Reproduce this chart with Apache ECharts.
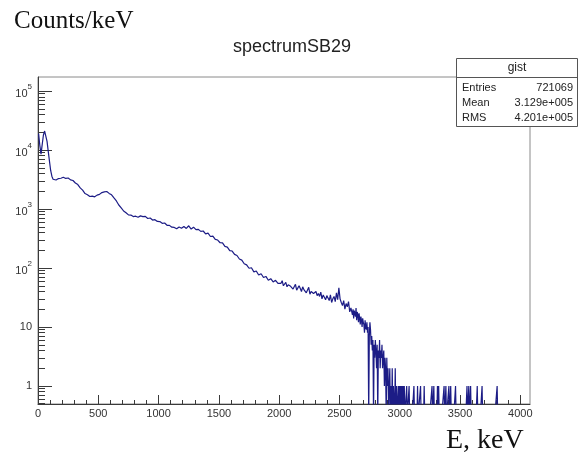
<!DOCTYPE html>
<html><head><meta charset="utf-8">
<script src="https://cdn.jsdelivr.net/npm/echarts@6/dist/echarts.min.js"></script>
<style>html,body{margin:0;padding:0;background:#fff}#c{width:579px;height:456px}</style>
</head><body><div id="c"></div>
<script>
// ---- data (counts per bin) ----
// bins from 0 keV, 10 keV wide
const lowStart = 0, lowWidth = 10;
const countsLow = [19000, 12000, 8500, 12500, 18000, 21000, 19500, 14000, 9500, 6500, 4500, 3600, 3200, 3050];
// bins from 140 keV, 20 keV wide
const midStart = 140, midWidth = 20;
const countsMid = [
  3100, 3280, 3320, 3450, 3300, 3360, 3120, 3040, 2760, 2600,   // 140-320
  2280, 2090, 1830, 1750, 1630, 1650, 1610, 1720, 1770, 1900,   // 340-520
  1950, 1980, 1840, 1740, 1540, 1370, 1170, 1050, 925, 865,     // 540-720
  795, 790, 745, 755, 725, 765, 745, 750, 690, 705,             // 740-920
  650, 660, 615, 612, 572, 580, 530, 528, 492, 488,             // 940-1120
  462, 495, 472, 505, 468, 520, 458, 492, 446, 452,             // 1140-1320
  418, 424, 378, 390, 342, 347, 305, 298, 268, 266,             // 1340-1520
  232, 226, 197, 194, 170, 163, 142, 136, 118, 113,             // 1540-1720
  99, 101, 86, 89, 76, 80, 69, 72, 62, 66,                      // 1740-1920
  58, 62, 55                                                    // 1940-1980
];
// bins from 2000 keV, 10 keV wide
const highStart = 2000, highWidth = 10;
const countsHigh = [
  58, 55, 61, 50, 53, 57, 48, 52, 56, 49,
  51, 44, 47, 53, 42, 46, 50, 45, 40, 48,
  43, 45, 38, 41, 47, 36, 40, 43, 37, 35,
  40, 34, 37, 33, 39, 30, 35, 37, 29, 34,
  31, 28, 35, 26, 30, 33, 27, 38, 29, 46,
  30, 26, 23, 28, 20, 25, 22, 27, 18, 21
];
// bins from 2600 keV, 5 keV wide
const edgeStart = 2600, edgeWidth = 5;
const countsEdge = [
  22, 16, 20, 14, 19, 17, 15, 21, 13, 18,
  16, 12, 17, 14, 11, 15, 13, 10, 14, 12,
  11, 8, 13, 10, 9, 12, 8, 10, 0, 7,
  12, 9, 5, 7, 4, 6, 0, 5, 3, 6,
  4, 2, 5, 0, 4, 3, 6, 2, 4, 3,
  5, 2, 3, 4, 1, 3, 2, 0, 3, 1
];
// sparse tail from 2900 keV (5 keV bins): non-empty bins only
const tailStart = 2900, tailWidth = 5;
const sparseE = [2900, 2910, 2915, 2925, 2935, 2945, 2950, 2960, 2970, 2975, 2985, 2995, 3005, 3015, 3025, 3035, 3055, 3075, 3115, 3145, 3170, 3200, 3265, 3280, 3310, 3320, 3365, 3380, 3405, 3420, 3460, 3555, 3570, 3585, 3640, 3680, 3805];
const sparseC = [2, 1, 2, 1, 2, 1, 1, 2, 1, 1, 1, 1, 1, 1, 1, 1, 1, 1, 1, 1, 1, 1, 1, 1, 1, 1, 1, 1, 1, 1, 1, 1, 1, 1, 1, 1, 1];

const xMax = 4080;
const yMin = 0.495, yMax = 1.73e5;
const xLabels = [0, 500, 1000, 1500, 2000, 2500, 3000, 3500, 4000];
const yLabels = [1, 10, 100, 1000, 10000, 100000];

const stats = { name: 'gist', entries: '721069', mean: '3.129e+005', rms: '4.201e+005' };

// ---- build histogram points at bin centres ----
const pts = [];
const addBins = (arr, start, w) => arr.forEach((c, i) => pts.push([start + i * w + w / 2, c]));
addBins(countsLow, lowStart, lowWidth);
addBins(countsMid, midStart, midWidth);
addBins(countsHigh, highStart, highWidth);
addBins(countsEdge, edgeStart, edgeWidth);
for (let e = tailStart; e < xMax; e += tailWidth) {
  const k = sparseE.indexOf(e);
  pts.push([e + tailWidth / 2, k >= 0 ? sparseC[k] : 0]);
}
const floor = 0.3; // empty bins drop below the frame
const data = pts.map(p => [p[0], p[1] > 0 ? p[1] : floor]);

const xMinor = []; for (let v = 100; v < xMax; v += 100) if (v % 500) xMinor.push(v);
const yMinor = [];
for (let d = -1; d <= 5; d++) for (let m = 2; m <= 9; m++) {
  const v = m * Math.pow(10, d);
  if (v > yMin && v < yMax) yMinor.push(v);
}

const chart = echarts.init(document.getElementById('c'), null, { renderer: 'canvas' });
const axisCol = '#3a3a3a';
chart.setOption({
  animation: false,
  backgroundColor: '#fff',
  title: {
    text: 'spectrumSB29', left: 287, top: 33, textAlign: 'center',
    textStyle: { fontFamily: 'Liberation Sans', fontSize: 18, fontWeight: 'normal', color: '#222' }
  },
  grid: { left: 38, right: 49, top: 77, bottom: 52, show: true, borderColor: '#8a8a8a', borderWidth: 1, backgroundColor: 'transparent' },
  xAxis: [{
    type: 'value', min: 0, max: xMax,
    axisLine: { lineStyle: { color: axisCol } },
    splitLine: { show: false },
    axisTick: { inside: true, length: 9, customValues: xLabels, lineStyle: { color: axisCol } },
    axisLabel: { customValues: xLabels, margin: 4, fontFamily: 'Liberation Sans', fontSize: 11, color: '#333', formatter: v => String(v) }
  }, {
    type: 'value', min: 0, max: xMax, position: 'bottom',
    axisLine: { show: false }, splitLine: { show: false }, axisLabel: { show: false },
    axisTick: { inside: true, length: 4, customValues: xMinor, lineStyle: { color: axisCol } }
  }],
  yAxis: [{
    type: 'log', logBase: 10, min: yMin, max: yMax,
    axisLine: { show: true, lineStyle: { color: axisCol } },
    splitLine: { show: false },
    axisTick: { inside: true, length: 14, customValues: yLabels, lineStyle: { color: axisCol } },
    axisLabel: {
      customValues: yLabels, margin: 6, color: '#333', fontFamily: 'Liberation Sans',
      formatter: v => {
        const e = Math.round(Math.log10(v));
        if (e === 0) return '1';
        if (e === 1) return '10';
        return '{b|10}{s|' + e + '}';
      },
      rich: {
        b: { fontSize: 11, fontFamily: 'Liberation Sans', color: '#333', lineHeight: 16, verticalAlign: 'bottom' },
        s: { fontSize: 8, fontFamily: 'Liberation Sans', color: '#333', lineHeight: 16, verticalAlign: 'top' }
      },
      fontSize: 11
    }
  }, {
    type: 'log', logBase: 10, min: yMin, max: yMax, position: 'left',
    axisLine: { show: false }, splitLine: { show: false }, axisLabel: { show: false },
    axisTick: { inside: true, length: 7, customValues: yMinor, lineStyle: { color: axisCol } }
  }],
  series: [{
    type: 'line', xAxisIndex: 0, yAxisIndex: 0, data: data,
    showSymbol: false, symbol: 'none', clip: true,
    lineStyle: { color: '#1c1c86', width: 1.2 }
  }],
  graphic: [
    { type: 'text', left: 14, top: 9, style: { text: 'Counts/keV', font: '25px "Liberation Serif"', fill: '#111' } },
    { type: 'text', left: 446, top: 427, style: { text: 'E, keV', font: '28px "Liberation Serif"', fill: '#111' } },
    { type: 'rect', shape: { x: 456.5, y: 58.5, width: 121, height: 68 }, style: { fill: '#fff', stroke: '#555', lineWidth: 1 }, z: 100 },
    { type: 'line', shape: { x1: 456.5, y1: 77.5, x2: 577.5, y2: 77.5 }, style: { stroke: '#555', lineWidth: 1 }, z: 101 },
    { type: 'text', x: 517, y: 68, style: { text: stats.name, font: '12px "Liberation Sans"', fill: '#222', textAlign: 'center', textVerticalAlign: 'middle' }, z: 102 },
    { type: 'text', x: 462, y: 88, style: { text: 'Entries', font: '11px "Liberation Sans"', fill: '#222', textAlign: 'left', textVerticalAlign: 'middle' }, z: 102 },
    { type: 'text', x: 573, y: 88, style: { text: stats.entries, font: '11px "Liberation Sans"', fill: '#222', textAlign: 'right', textVerticalAlign: 'middle' }, z: 102 },
    { type: 'text', x: 462, y: 103, style: { text: 'Mean', font: '11px "Liberation Sans"', fill: '#222', textAlign: 'left', textVerticalAlign: 'middle' }, z: 102 },
    { type: 'text', x: 573, y: 103, style: { text: stats.mean, font: '11px "Liberation Sans"', fill: '#222', textAlign: 'right', textVerticalAlign: 'middle' }, z: 102 },
    { type: 'text', x: 462, y: 118, style: { text: 'RMS', font: '11px "Liberation Sans"', fill: '#222', textAlign: 'left', textVerticalAlign: 'middle' }, z: 102 },
    { type: 'text', x: 573, y: 118, style: { text: stats.rms, font: '11px "Liberation Sans"', fill: '#222', textAlign: 'right', textVerticalAlign: 'middle' }, z: 102 }
  ]
});
</script>
</body></html>
